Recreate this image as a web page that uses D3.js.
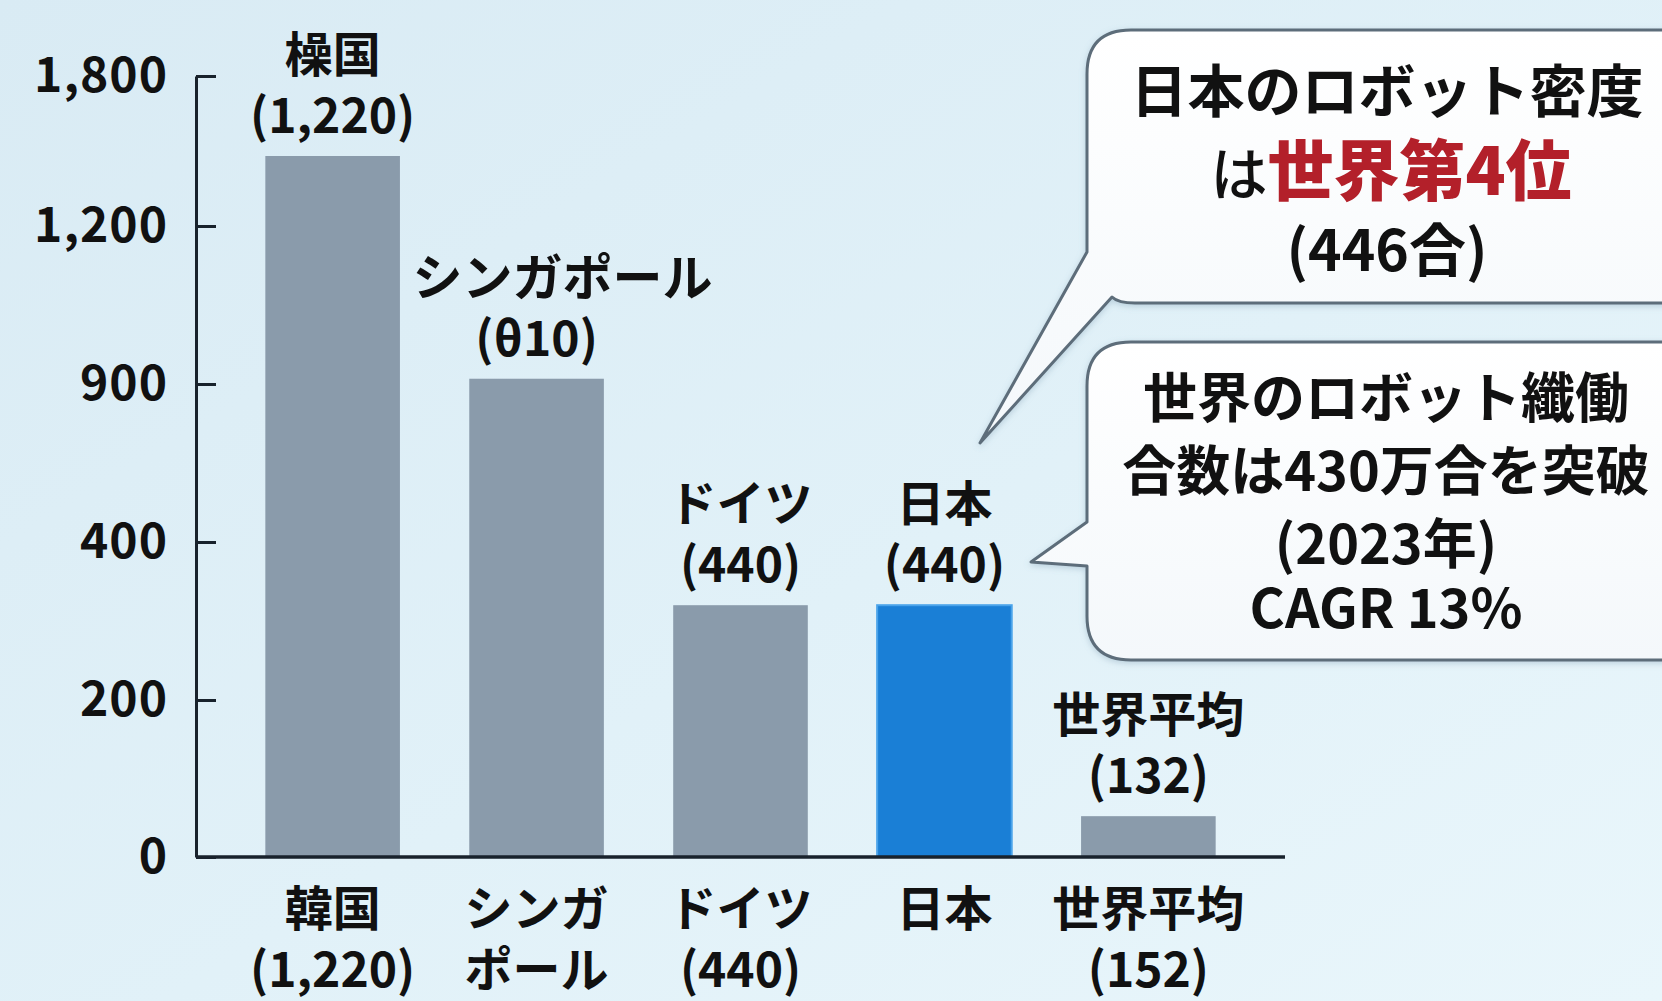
<!DOCTYPE html>
<html>
<head>
<meta charset="utf-8">
<script src="https://cdn.jsdelivr.net/npm/d3@7"></script>
<style>
  html, body { margin: 0; padding: 0; overflow: hidden; }
  body { width: 1662px; height: 1001px; }
  text { font-family: "Noto Sans CJK JP", "Noto Sans", sans-serif; font-weight: 700; fill: #111; }
</style>
</head>
<body>
<div id="container"></div>
<script>
let w = 1662;
let h = 1001;

let categories = ["韓国", "シンガポール", "ドイツ", "日本", "世界平均"];
let values = [1480, 910, 320, 320, 52];
// labels as printed in the picture
let topNames = ["橾国", "シンガポール", "ドイツ", "日本", "世界平均"];
let topValues = ["(1,220)", "(θ10)", "(440)", "(440)", "(132)"];
let bottomLine1 = ["韓国", "シンガ", "ドイツ", "日本", "世界平均"];
let bottomLine2 = ["(1,220)", "ポール", "(440)", "", "(152)"];
let tickValues = [0, 200, 400, 900, 1200, 1800];
let highlight = "日本";

let viz = d3.select("#container").append("svg")
  .attr("width", w)
  .attr("height", h);

let defs = viz.append("defs");
let bg = defs.append("linearGradient").attr("id", "bg")
  .attr("x1", 0).attr("y1", 0).attr("x2", 1).attr("y2", 1);
bg.append("stop").attr("offset", "0%").attr("stop-color", "#d9ebf4");
bg.append("stop").attr("offset", "55%").attr("stop-color", "#e1f1f8");
bg.append("stop").attr("offset", "100%").attr("stop-color", "#e9f6fb");

let bubble = defs.append("linearGradient").attr("id", "bubble")
  .attr("x1", 0).attr("y1", 0).attr("x2", 0).attr("y2", 1);
bubble.append("stop").attr("offset", "0%").attr("stop-color", "#ffffff");
bubble.append("stop").attr("offset", "100%").attr("stop-color", "#f4f8fb");

let shadow = defs.append("filter").attr("id", "shadow")
  .attr("x", "-10%").attr("y", "-10%").attr("width", "130%").attr("height", "130%");
shadow.append("feDropShadow").attr("dx", 0).attr("dy", 2).attr("stdDeviation", 3)
  .attr("flood-color", "#7090a8").attr("flood-opacity", 0.35);

viz.append("rect").attr("width", w).attr("height", h).attr("fill", "url(#bg)");

// piecewise scale: the axis ticks are evenly spaced while their labels are not
let yScale = d3.scaleLinear()
  .domain(tickValues)
  .range([857, 700, 542, 384, 226, 76]);

let xScale = d3.scaleBand()
  .domain(categories)
  .range([196, 1285])
  .paddingInner(0.34)
  .paddingOuter(0.34);

// bars
viz.selectAll(".bar").data(categories).enter().append("rect")
  .attr("class", "bar")
  .attr("x", d => xScale(d))
  .attr("y", (d, i) => yScale(values[i]))
  .attr("width", xScale.bandwidth())
  .attr("height", (d, i) => yScale(0) - yScale(values[i]))
  .attr("fill", d => d == highlight ? "#1a7fd6" : "#8a9bab")
  .attr("stroke", d => d == highlight ? "#4aa3ea" : "none")
  .attr("stroke-width", 2);

// labels above the bars
let topLabels = viz.selectAll(".toplabel").data(categories).enter().append("g")
  .attr("class", "toplabel")
  .attr("transform", (d, i) => "translate(" + (xScale(d) + xScale.bandwidth() / 2) + "," + yScale(values[i]) + ")");
topLabels.append("text")
  .attr("text-anchor", "middle")
  .attr("font-size", d => d == "シンガポール" ? 50 : 48)
  .attr("x", d => d == "シンガポール" ? 26 : 0) // the long name sits a little right in the picture
  .attr("y", -101).attr("dy", "0.36em")
  .text((d, i) => topNames[i]);
topLabels.append("text")
  .attr("text-anchor", "middle").attr("font-size", 48)
  .attr("y", -40).attr("dy", "0.36em")
  .text((d, i) => topValues[i]);

// y axis
let yAxisGroup = viz.append("g").attr("class", "yaxis")
  .attr("transform", "translate(196,0)");
let yAxis = d3.axisLeft(yScale)
  .tickValues(tickValues)
  .tickFormat(d3.format(","))
  .tickSizeInner(-20)
  .tickSizeOuter(0)
  .tickPadding(28);
yAxisGroup.call(yAxis);
yAxisGroup.select(".domain").attr("stroke", "#18222c").attr("stroke-width", 3);
yAxisGroup.selectAll(".tick line").attr("stroke", "#18222c").attr("stroke-width", 3);
yAxisGroup.selectAll(".tick text")
  .attr("font-size", 48)
  .attr("font-family", "'Noto Sans CJK JP', sans-serif")
  .attr("font-weight", 700)
  .attr("fill", "#111")
  .attr("letter-spacing", 1);

// baseline
viz.append("line")
  .attr("x1", 196).attr("x2", 1285)
  .attr("y1", yScale(0)).attr("y2", yScale(0))
  .attr("stroke", "#18222c").attr("stroke-width", 3.5);

// labels below the axis
let bottomLabels = viz.selectAll(".bottomlabel").data(categories).enter().append("g")
  .attr("class", "bottomlabel")
  .attr("transform", d => "translate(" + (xScale(d) + xScale.bandwidth() / 2) + "," + yScale(0) + ")");
bottomLabels.append("text")
  .attr("text-anchor", "middle").attr("font-size", 48)
  .attr("y", 52).attr("dy", "0.36em")
  .text((d, i) => bottomLine1[i]);
bottomLabels.append("text")
  .attr("text-anchor", "middle").attr("font-size", 48)
  .attr("y", 113).attr("dy", "0.36em")
  .text((d, i) => bottomLine2[i]);

// callout 1
let r = 44;
let p1 = d3.path();
p1.moveTo(1087 + r, 30);
p1.lineTo(1700, 30);
p1.lineTo(1700, 303);
p1.lineTo(1135, 303);
p1.quadraticCurveTo(1118, 303, 1112, 297);
p1.lineTo(980, 443);
p1.lineTo(1087, 252);
p1.lineTo(1087, 30 + r);
p1.quadraticCurveTo(1087, 30, 1087 + r, 30);
p1.closePath();
viz.append("path").attr("d", p1.toString())
  .attr("fill", "url(#bubble)").attr("stroke", "#5d6d7a").attr("stroke-width", 3)
  .attr("stroke-linejoin", "round").attr("filter", "url(#shadow)");

// callout 2
let p2 = d3.path();
p2.moveTo(1087 + r, 342);
p2.lineTo(1700, 342);
p2.lineTo(1700, 660);
p2.lineTo(1087 + r, 660);
p2.quadraticCurveTo(1087, 660, 1087, 660 - r);
p2.lineTo(1087, 566);
p2.lineTo(1031, 562);
p2.lineTo(1087, 522);
p2.lineTo(1087, 342 + r);
p2.quadraticCurveTo(1087, 342, 1087 + r, 342);
p2.closePath();
viz.append("path").attr("d", p2.toString())
  .attr("fill", "url(#bubble)").attr("stroke", "#5d6d7a").attr("stroke-width", 3)
  .attr("stroke-linejoin", "round").attr("filter", "url(#shadow)");

let cx = 1387;
viz.append("text").attr("x", cx).attr("y", 91).attr("dy", "0.36em")
  .attr("text-anchor", "middle").attr("font-size", 57).attr("font-weight", 500)
  .text("日本のロボット密度");
let line2 = viz.append("text").attr("x", cx + 4).attr("y", 173)
  .attr("font-size", 60).attr("dy", "0.36em")
  .attr("text-anchor", "middle");
line2.append("tspan").attr("font-size", 57).attr("font-weight", 500).text("は");
line2.append("tspan").attr("font-size", 66).attr("font-weight", 900)
  .style("fill", "#b3202a").text("世界第4位");
viz.append("text").attr("x", cx).attr("y", 250).attr("dy", "0.36em")
  .attr("text-anchor", "middle").attr("font-size", 57).attr("font-weight", 500)
  .text("(446合)");

let calloutLines = ["世界のロボット纖働", "合数は430万合を突破", "(2023年)", "CAGR 13%"];
let calloutY = [399, 472, 545, 609];
viz.selectAll(".callout2").data(calloutLines).enter().append("text")
  .attr("class", "callout2")
  .attr("x", 1386).attr("y", (d, i) => calloutY[i]).attr("dy", "0.36em")
  .attr("text-anchor", "middle").attr("font-size", 54).attr("font-weight", 700)
  .text(d => d);
</script>
</body>
</html>
